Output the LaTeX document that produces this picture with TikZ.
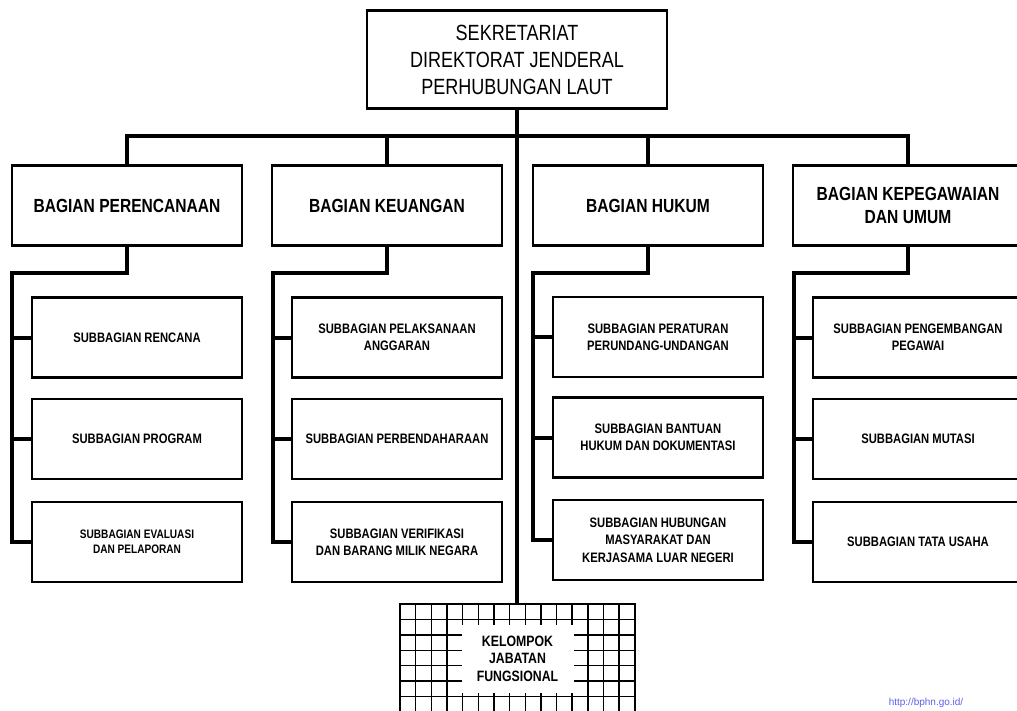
\documentclass[tikz,border=0pt]{standalone}
\usepackage{fontspec}
\setmainfont{Liberation Sans}[FakeStretch=0.82]
\newfontfamily\urlfont{Liberation Sans}
\definecolor{urlblue}{RGB}{95,95,235}
\begin{document}
\begin{tikzpicture}[x=1pt,y=-1pt,
  box/.style={draw=black,line width=2.8pt,fill=white,inner sep=0pt,align=center,text=black},
  topbox/.style={box,minimum width=300pt,minimum height=98pt,font=\fontsize{22}{27}\selectfont},
  dept/.style={box,minimum width=230pt,minimum height=80pt,font=\bfseries\fontsize{19}{23}\selectfont},
  sub/.style={box,minimum width=210pt,minimum height=80pt,font=\bfseries\fontsize{13.7}{16.8}\selectfont},
  conn/.style={line width=4pt,line join=miter},
  gridline/.style={line width=1.4pt}]
\useasboundingbox (0,0) rectangle (1017,711);
\clip (0,0) rectangle (1017,711);

% top
\node[topbox] (top) at (517,59.5) {SEKRETARIAT\\DIREKTORAT JENDERAL\\PERHUBUNGAN LAUT};

% departments
\node[dept] (d1) at (127,205.5) {BAGIAN PERENCANAAN};
\node[dept] (d2) at (387,205.5) {BAGIAN KEUANGAN};
\node[dept] (d3) at (648,205.5) {BAGIAN HUKUM};
\node[dept] (d4) at (908,205.5) {BAGIAN KEPEGAWAIAN\\DAN UMUM};

% sub units
\node[sub] (s11) at (137,337.5) {SUBBAGIAN RENCANA};
\node[sub] (s12) at (137,439) {SUBBAGIAN PROGRAM};
\node[sub,font=\bfseries\fontsize{12.3}{15}\selectfont] (s13) at (137,542) {SUBBAGIAN EVALUASI\\DAN PELAPORAN};

\node[sub] (s21) at (397,337.5) {SUBBAGIAN PELAKSANAAN\\ANGGARAN};
\node[sub] (s22) at (397,439) {SUBBAGIAN PERBENDAHARAAN};
\node[sub] (s23) at (397,542) {SUBBAGIAN VERIFIKASI\\DAN BARANG MILIK NEGARA};

\node[sub] (s31) at (658,337) {SUBBAGIAN PERATURAN\\PERUNDANG-UNDANGAN};
\node[sub] (s32) at (658,437.5) {SUBBAGIAN BANTUAN\\HUKUM DAN DOKUMENTASI};
\node[sub,font=\bfseries\fontsize{13.7}{17.5}\selectfont] (s33) at (658,540) {SUBBAGIAN HUBUNGAN\\MASYARAKAT DAN\\KERJASAMA LUAR NEGERI};

\node[sub] (s41) at (918,337.5) {SUBBAGIAN PENGEMBANGAN\\PEGAWAI};
\node[sub] (s42) at (918,439) {SUBBAGIAN MUTASI};
\node[sub] (s43) at (918,542) {SUBBAGIAN TATA USAHA};

% functional group with grid
\begin{scope}
  \clip (400,604) rectangle (635,716);
  \foreach \k in {1,...,14} {\draw[gridline] (400+15.65*\k,604) -- (400+15.65*\k,716);}
  \foreach \k in {1,...,7} {\draw[gridline] (400,604+15.4*\k) -- (635,604+15.4*\k);}
\end{scope}
\node[fill=white,inner sep=0pt,minimum width=112pt,minimum height=68pt,align=center,
      font=\bfseries\fontsize{15}{17.5}\selectfont] (grptext) at (517.5,658.5)
      {KELOMPOK\\JABATAN\\FUNGSIONAL};
\node[draw=black,line width=2.8pt,inner sep=0pt,minimum width=235pt,minimum height=112pt] (grp) at (517.5,660) {};

% connectors
\coordinate (bus) at (517,136);
\draw[conn] (top.south) -- (top.south |- grp.north);
\draw[conn] (d1.north) |- (d4.north |- bus) -- (d4.north);
\draw[conn] (d2.north) -- (d2.north |- bus);
\draw[conn] (d3.north) -- (d3.north |- bus);

\coordinate (sp1) at (12,273);
\coordinate (sp2) at (273,273);
\coordinate (sp3) at (533,273);
\coordinate (sp4) at (794,273);
\foreach \i in {1,2,3,4} {
  \draw[conn] (d\i.south) |- (sp\i) -- (sp\i |- s\i3.west) -- (s\i3.west);
  \draw[conn] (sp\i |- s\i1.west) -- (s\i1.west);
  \draw[conn] (sp\i |- s\i2.west) -- (s\i2.west);
}

\node[font=\urlfont\fontsize{10}{12}\selectfont,text=urlblue,inner sep=0pt] (url) at (926,703) {http://bphn.go.id/};
\end{tikzpicture}
\end{document}
